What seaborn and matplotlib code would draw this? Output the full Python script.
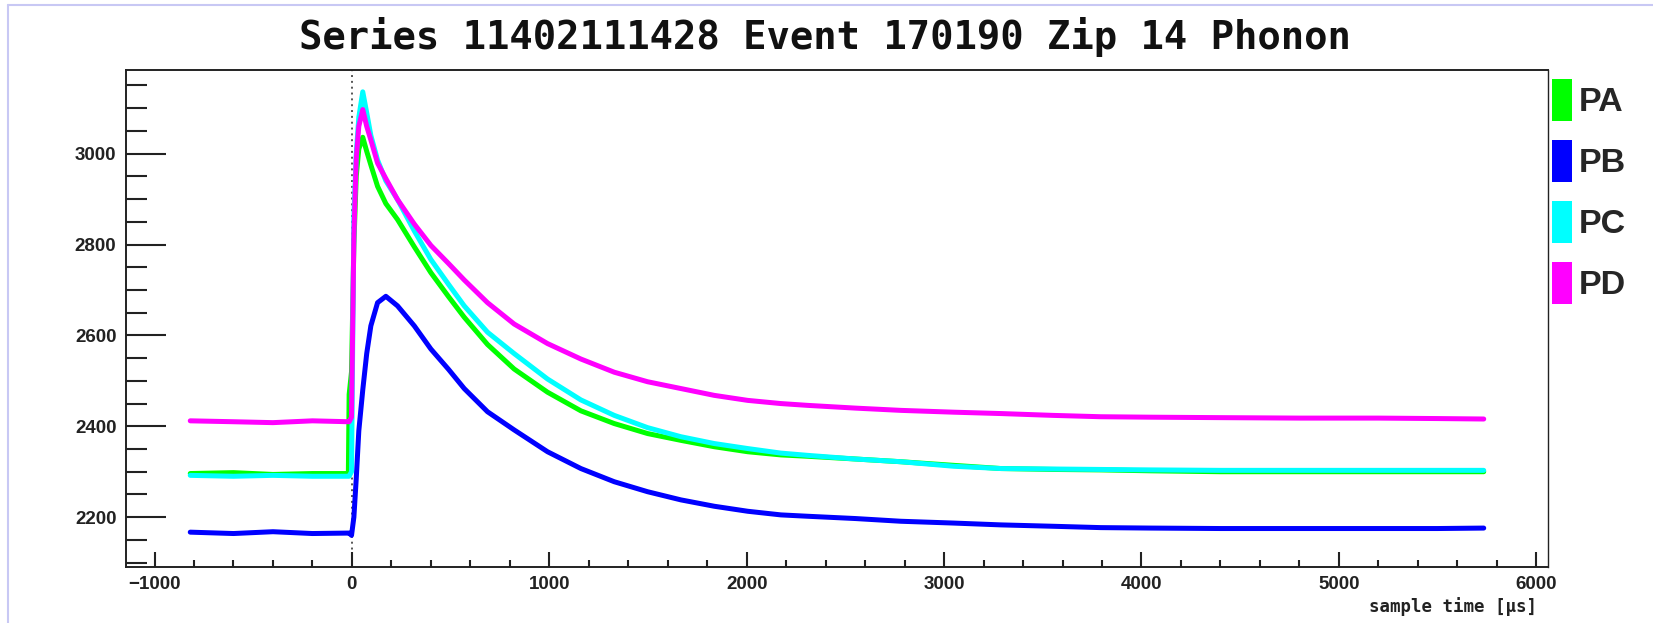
import matplotlib
matplotlib.use("Agg")
import matplotlib.pyplot as plt
from matplotlib.lines import Line2D
from matplotlib.patches import Patch
from matplotlib.ticker import MultipleLocator
import numpy as np
import pandas as pd
import seaborn as sns

# Sample times [µs] and ADC values of the four phonon channels
t_us = [-819, -600, -400, -200, -18, -14, -2, 10, 22, 35, 55, 75, 96, 130, 172,
        231, 316, 400, 490, 569, 687, 822, 991, 1160, 1329, 1498, 1667, 1836,
        2005, 2173, 2309, 2550, 2781, 3050, 3288, 3550, 3794, 4048, 4400, 4800,
        5200, 5500, 5734]

pa = [2296, 2298, 2294, 2296, 2296, 2470, 2520, 2800, 2950, 3010, 3036, 3005,
      2975, 2928, 2890, 2855, 2795, 2738, 2685, 2640, 2580, 2526, 2475, 2434,
      2406, 2384, 2369, 2355, 2344, 2337, 2334, 2328, 2322, 2314, 2307, 2305,
      2304, 2302, 2300, 2300, 2300, 2300, 2300]

pb = [2167, 2164, 2168, 2164, 2165, 2165, 2160, 2200, 2285, 2390, 2480, 2560,
      2621, 2672, 2686, 2665, 2621, 2570, 2525, 2483, 2432, 2392, 2344, 2307,
      2278, 2256, 2238, 2224, 2213, 2205, 2202, 2197, 2191, 2187, 2183, 2180,
      2177, 2176, 2175, 2175, 2175, 2175, 2176]

pc = [2292, 2290, 2292, 2290, 2290, 2290, 2300, 2860, 3000, 3080, 3136, 3090,
      3040, 2986, 2940, 2899, 2830, 2767, 2712, 2665, 2607, 2560, 2504, 2458,
      2424, 2397, 2377, 2362, 2351, 2341, 2336, 2328, 2322, 2312, 2307, 2306,
      2305, 2304, 2303, 2303, 2303, 2303, 2303]

pd_ = [2412, 2410, 2408, 2412, 2410, 2410, 2420, 2820, 2990, 3060, 3097, 3060,
       3030, 2979, 2945, 2899, 2845, 2798, 2758, 2722, 2672, 2625, 2582, 2548,
       2519, 2498, 2483, 2468, 2457, 2450, 2446, 2440, 2435, 2431, 2428, 2424,
       2421, 2420, 2419, 2418, 2418, 2417, 2416]

channels = ["PA", "PB", "PC", "PD"]
colors = {"PA": "#00ff00", "PB": "#0000ff", "PC": "#00ffff", "PD": "#ff00ff"}

frames = []
for name, vals in zip(channels, [pa, pb, pc, pd_]):
    frames.append(pd.DataFrame({"t": t_us, "adc": vals, "channel": name}))
traces = pd.concat(frames, ignore_index=True)

sns.set_style("white")
plt.rcParams["font.family"] = ["Liberation Sans", "DejaVu Sans"]

W, H = 1653, 623
fig = plt.figure(figsize=(W / 100, H / 100), dpi=100)
fig.patch.set_facecolor("white")

ax_l, ax_r, ax_t, ax_b = 125.5, 1547.5, 70.0, 566.7
ax = fig.add_axes([ax_l / W, 1 - ax_b / H, (ax_r - ax_l) / W, (ax_b - ax_t) / H])

sns.lineplot(data=traces, x="t", y="adc", hue="channel", hue_order=channels,
             palette=colors, estimator=None, sort=False, legend=False,
             linewidth=3.6, ax=ax)

# trigger marker
ax.axvline(0, color="#555555", linestyle=(0, (1, 2)), linewidth=1.4, zorder=0)

ax.set_xlim(-1147, 6057)
ax.set_ylim(2091, 3184)
ax.xaxis.set_major_locator(MultipleLocator(1000))
ax.xaxis.set_minor_locator(MultipleLocator(200))
ax.yaxis.set_major_locator(MultipleLocator(200))
ax.yaxis.set_minor_locator(MultipleLocator(50))

tick_col = "#222222"
ax.tick_params(axis="x", which="major", direction="in", length=10.8, width=1.5,
               color=tick_col, pad=6.7, labelsize=13.5, bottom=True, top=False)
ax.tick_params(axis="x", which="minor", direction="in", length=5.3, width=1.5,
               color=tick_col, bottom=True, top=False)
ax.tick_params(axis="y", which="major", direction="in", length=28.8, width=1.5,
               color=tick_col, pad=6.5, labelsize=13.5, left=True, right=False)
ax.tick_params(axis="y", which="minor", direction="in", length=14.8, width=1.5,
               color=tick_col, left=True, right=False)
for lab in ax.get_xticklabels() + ax.get_yticklabels():
    lab.set_fontweight("bold")
    lab.set_color(tick_col)

for side in ["top", "left", "bottom", "right"]:
    ax.spines[side].set_visible(True)
    ax.spines[side].set_color(tick_col)
    ax.spines[side].set_linewidth(1.4)
ax.spines["right"].set_linewidth(1.0)

ax.set_xlabel("")
ax.set_ylabel("")

fig.text(825 / W, 1 - 49.3 / H, "Series 11402111428 Event 170190 Zip 14 Phonon",
         ha="center", va="baseline", fontsize=28, fontweight="bold",
         family=["DejaVu Sans Mono"], color="#111111")

fig.text(1537 / W, 1 - 597.5 / H, "sample time [µs]", ha="right", va="top",
         fontsize=12.5, fontweight="bold", family=["DejaVu Sans Mono"],
         color=tick_col)

# channel key, right of the frame
fs = 24.5
fs_px = fs * 100 / 72
box_h = 42.0
hh = (box_h / fs_px - 0.245) / 0.65
handles = [Patch(facecolor=colors[c], edgecolor="none") for c in channels]
fig.legend(handles, channels, loc="upper left",
           bbox_to_anchor=(1552 / W, 1 - 79 / H), frameon=False,
           borderpad=0, borderaxespad=0,
           handlelength=20 / fs_px, handleheight=hh,
           handletextpad=6.3 / fs_px, labelspacing=19 / fs_px,
           prop={"family": "Liberation Sans", "weight": "bold", "size": fs})

# light canvas border
border = "#c8c8f4"
fig.add_artist(Line2D([8 / W, 1], [1 - 5 / H, 1 - 5 / H], transform=fig.transFigure,
                      color=border, linewidth=1.5))
fig.add_artist(Line2D([8 / W, 8 / W], [0, 1 - 5 / H], transform=fig.transFigure,
                      color=border, linewidth=1.5))

fig.savefig("out.png", dpi=100, facecolor="white")
